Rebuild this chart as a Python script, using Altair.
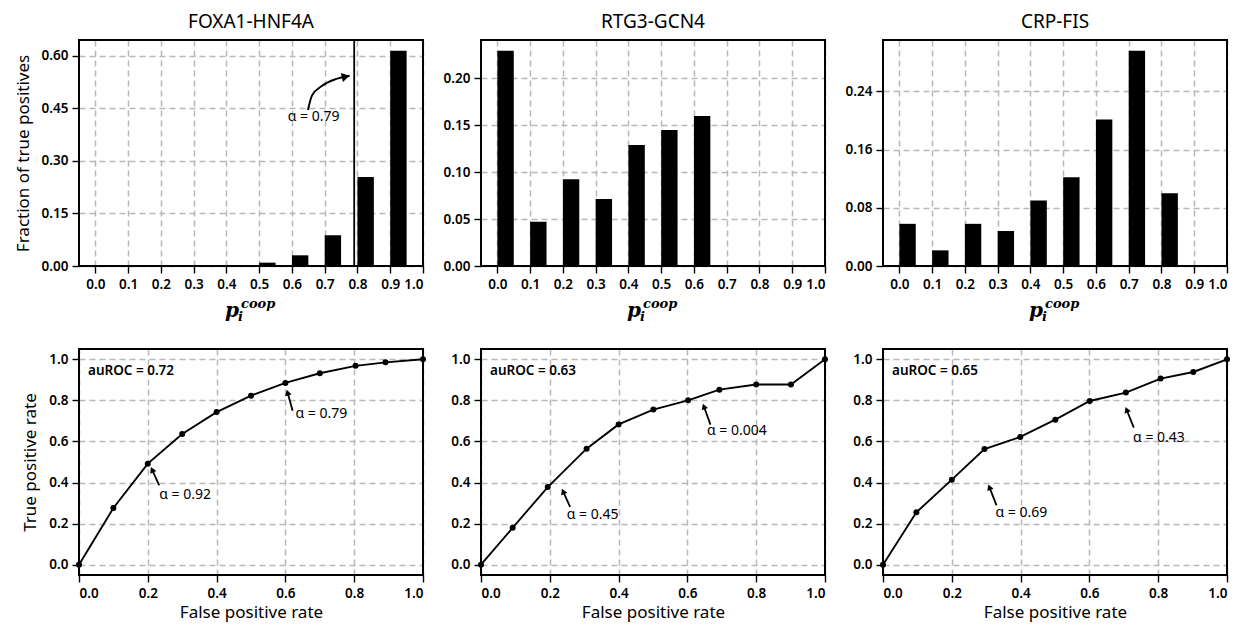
import math
import altair as alt
import pandas as pd

FONT = "Noto Sans"

# ---------------- data ----------------
TITLES = ["FOXA1-HNF4A", "RTG3-GCN4", "CRP-FIS"]
BINS = [0.0, 0.1, 0.2, 0.3, 0.4, 0.5, 0.6, 0.7, 0.8, 0.9]
BIN_WIDTH = 0.05

FOXA_FRAC = [0, 0, 0, 0, 0, 0.0095, 0.0305, 0.0876, 0.254, 0.614]
RTG_FRAC = [0.2295, 0.0473, 0.0925, 0.0715, 0.129, 0.145, 0.160, 0, 0, 0]
CRP_FRAC = [0.058, 0.0215, 0.058, 0.048, 0.090, 0.122, 0.2015, 0.296, 0.100, 0]

FOXA_YTICKS = [0.0, 0.15, 0.30, 0.45, 0.60]
RTG_YTICKS = [0.0, 0.05, 0.10, 0.15, 0.20]
CRP_YTICKS = [0.0, 0.08, 0.16, 0.24]
TOP_XTICKS = [0.0, 0.1, 0.2, 0.3, 0.4, 0.5, 0.6, 0.7, 0.8, 0.9, 1.0]

FOXA_ALPHA = 0.79
FOXA_ALPHA_LABEL = "α = 0.79"
# curved arrow (data coords of top-left panel)
CURVE_X = [0.649, 0.661, 0.692, 0.733, 0.776]
CURVE_Y = [0.445, 0.486, 0.514, 0.533, 0.543]
CURVE_LABEL_X = 0.666
CURVE_LABEL_Y = 0.424

FOXA_FPR = [0, 0.1, 0.2, 0.3, 0.4, 0.5, 0.6, 0.7, 0.804, 0.891, 1.0]
FOXA_TPR = [0, 0.276, 0.492, 0.636, 0.743, 0.823, 0.885, 0.932, 0.968, 0.985, 1.0]
RTG_FPR = [0, 0.092, 0.194, 0.307, 0.4, 0.501, 0.602, 0.693, 0.80, 0.901, 1.0]
RTG_TPR = [0, 0.180, 0.378, 0.565, 0.683, 0.755, 0.800, 0.852, 0.877, 0.877, 1.0]
CRP_FPR = [0, 0.097, 0.2, 0.295, 0.399, 0.501, 0.601, 0.706, 0.807, 0.902, 1.0]
CRP_TPR = [0, 0.255, 0.414, 0.563, 0.622, 0.706, 0.797, 0.838, 0.906, 0.938, 1.0]
AUROC = ["auROC = 0.72", "auROC = 0.63", "auROC = 0.65"]

# annotations: label, text x, text y, arrow tail x, tail y, arrow head x, head y
FOXA_ANN = [("α = 0.79", 0.629, 0.732, 0.621, 0.75, 0.604, 0.852),
            ("α = 0.92", 0.233, 0.341, 0.233, 0.386, 0.209, 0.476)]
RTG_ANN = [("α = 0.004", 0.657, 0.651, 0.667, 0.682, 0.645, 0.784),
           ("α = 0.45", 0.249, 0.240, 0.259, 0.281, 0.235, 0.370)]
CRP_ANN = [("α = 0.43", 0.727, 0.618, 0.729, 0.667, 0.705, 0.768),
           ("α = 0.69", 0.327, 0.250, 0.330, 0.289, 0.306, 0.391)]
ROC_TICKS = [0.0, 0.2, 0.4, 0.6, 0.8, 1.0]

W, H = 344, 226
TOP_XDOM = [-0.05, 1.0]
ROC_XDOM = [0.0, 1.0]
ROC_YDOM = [-0.05, 1.05]
SERIF = "DejaVu Serif"


def arrow_head(tx, ty, hx, hy, xdom, ydom, back=3.0):
    sx = W / (xdom[1] - xdom[0])
    sy = H / (ydom[1] - ydom[0])
    dx = (hx - tx) * sx
    dy = -(hy - ty) * sy
    L = math.hypot(dx, dy)
    ux, uy = dx / L, dy / L
    ang = math.degrees(math.atan2(ux, -uy)) % 360
    cx = hx - ux * back / sx
    cy = hy + uy * back / sy
    return cx, cy, ang


def frame():
    return alt.Chart(pd.DataFrame({"f": [0]})).mark_rect(
        fillOpacity=0, stroke="black", strokeWidth=2).encode(
        x=alt.value(0), x2=alt.value(W), y=alt.value(0), y2=alt.value(H))


def top_panel(i, values, yticks, ytitle):
    ymax = max(values) * 1.05
    xs = alt.Scale(domain=TOP_XDOM, nice=False, zero=False)
    ys = alt.Scale(domain=[0, ymax], nice=False, zero=False)
    xa = alt.Axis(values=TOP_XTICKS, format=".1f", title=None)
    ya = alt.Axis(values=yticks, format=".2f", title=ytitle) if ytitle else alt.Axis(values=yticks, format=".2f", title=None)

    df = pd.DataFrame({"start": BINS, "value": values})
    df["end"] = df["start"] + BIN_WIDTH
    df["zero"] = 0.0
    df = df[df["value"] > 0]
    bars = alt.Chart(df).mark_rect(color="black").encode(
        x=alt.X("start:Q", scale=xs, axis=xa),
        x2="end:Q",
        y=alt.Y("value:Q", scale=ys, axis=ya),
        y2="zero:Q",
    )
    layers = [bars]

    if i == 0:
        rule = alt.Chart(pd.DataFrame({"a": [FOXA_ALPHA]})).mark_rule(
            color="black", strokeWidth=1.8).encode(x=alt.X("a:Q", scale=xs, axis=xa))
        cdf = pd.DataFrame({"x": CURVE_X, "y": CURVE_Y})
        curve = alt.Chart(cdf).mark_line(color="black", strokeWidth=2, interpolate="monotone").encode(
            x=alt.X("x:Q", scale=xs, axis=xa), y=alt.Y("y:Q", scale=ys, axis=ya))
        cx, cy, ang = arrow_head(CURVE_X[-2], CURVE_Y[-2], CURVE_X[-1], CURVE_Y[-1], TOP_XDOM, [0, ymax], back=4)
        head = alt.Chart(pd.DataFrame({"x": [cx], "y": [cy], "ang": [ang]})).mark_point(
            shape="triangle-up", filled=True, color="black", opacity=1, size=85).encode(
            x=alt.X("x:Q", scale=xs, axis=xa), y=alt.Y("y:Q", scale=ys, axis=ya),
            angle=alt.Angle("ang:Q", scale=None))
        lab = alt.Chart(pd.DataFrame({"x": [CURVE_LABEL_X], "y": [CURVE_LABEL_Y], "t": [FOXA_ALPHA_LABEL]})).mark_text(
            font=FONT, fontSize=14, color="black").encode(
            x=alt.X("x:Q", scale=xs, axis=xa), y=alt.Y("y:Q", scale=ys, axis=ya), text="t:N")
        layers += [rule, curve, head, lab]

    # x label p_i^coop
    p = alt.Chart(pd.DataFrame({"t": ["p"]})).mark_text(
        font=SERIF, fontStyle="italic", fontWeight="bold", fontSize=20, color="black",
        align="left", baseline="alphabetic").encode(x=alt.value(146), y=alt.value(277), text="t:N")
    sub = alt.Chart(pd.DataFrame({"t": ["i"]})).mark_text(
        font=SERIF, fontStyle="italic", fontWeight="bold", fontSize=13, color="black",
        align="left", baseline="alphabetic").encode(x=alt.value(159), y=alt.value(281), text="t:N")
    sup = alt.Chart(pd.DataFrame({"t": ["coop"]})).mark_text(
        font=SERIF, fontStyle="italic", fontWeight="bold", fontSize=13, color="black",
        align="left", baseline="alphabetic").encode(x=alt.value(162), y=alt.value(268), text="t:N")
    layers += [p, sub, sup, frame()]

    return alt.layer(*layers).properties(
        width=W, height=H,
        title=alt.TitleParams(TITLES[i], font=FONT, fontSize=19, fontWeight="normal", color="black", offset=7))


def roc_panel(i, fpr, tpr, anns, ytitle):
    xs = alt.Scale(domain=ROC_XDOM, nice=False, zero=False)
    ys = alt.Scale(domain=ROC_YDOM, nice=False, zero=False)
    xa = alt.Axis(values=ROC_TICKS, format=".1f", title="False positive rate")
    ya = alt.Axis(values=ROC_TICKS, format=".1f", title=ytitle) if ytitle else alt.Axis(values=ROC_TICKS, format=".1f", title=None)
    X = lambda f: alt.X(f"{f}:Q", scale=xs, axis=xa)
    Y = lambda f: alt.Y(f"{f}:Q", scale=ys, axis=ya)

    df = pd.DataFrame({"fpr": fpr, "tpr": tpr})
    line = alt.Chart(df).mark_line(color="black", strokeWidth=1.9).encode(x=X("fpr"), y=Y("tpr"))
    pts = alt.Chart(df).mark_circle(color="black", opacity=1, size=36).encode(x=X("fpr"), y=Y("tpr"))

    adf = pd.DataFrame(anns, columns=["t", "lx", "ly", "tx", "ty", "hx", "hy"])
    heads = [arrow_head(r.tx, r.ty, r.hx, r.hy, ROC_XDOM, ROC_YDOM) for r in adf.itertuples()]
    adf["cx"] = [h[0] for h in heads]
    adf["cy"] = [h[1] for h in heads]
    adf["ang"] = [h[2] for h in heads]
    shafts = alt.Chart(adf).mark_rule(color="black", strokeWidth=1.8).encode(
        x=X("tx"), y=Y("ty"), x2="cx:Q", y2="cy:Q")
    hd = alt.Chart(adf).mark_point(shape="triangle-up", filled=True, color="black", opacity=1, size=45).encode(
        x=X("cx"), y=Y("cy"), angle=alt.Angle("ang:Q", scale=None))
    labels = alt.Chart(adf).mark_text(font=FONT, fontSize=14, color="black", align="left", baseline="middle").encode(
        x=X("lx"), y=Y("ly"), text="t:N")
    au = alt.Chart(pd.DataFrame({"t": [AUROC[i]]})).mark_text(
        font=FONT, fontSize=13.5, fontWeight=600, color="black", align="left", baseline="middle").encode(
        x=alt.value(9), y=alt.value(22), text="t:N")

    return alt.layer(line, pts, shafts, hd, labels, au, frame()).properties(width=W, height=H)


panels = [
    top_panel(0, FOXA_FRAC, FOXA_YTICKS, "Fraction of true positives"),
    top_panel(1, RTG_FRAC, RTG_YTICKS, None),
    top_panel(2, CRP_FRAC, CRP_YTICKS, None),
    roc_panel(0, FOXA_FPR, FOXA_TPR, FOXA_ANN, "True positive rate"),
    roc_panel(1, RTG_FPR, RTG_TPR, RTG_ANN, None),
    roc_panel(2, CRP_FPR, CRP_TPR, CRP_ANN, None),
]

chart = alt.concat(*panels, columns=3, spacing={"row": 83, "column": 58}, bounds="flush").properties(
    padding={"left": 6, "top": 5, "right": 2, "bottom": 2},
    background="white",
).configure_view(
    stroke=None
).configure_axis(
    labelFont=FONT, labelFontSize=13.5, labelFontWeight=600, labelColor="black", labelPadding=4,
    tickColor="black", tickSize=7, tickWidth=1.4,
    domain=False,
    grid=True, gridColor="#b8b8b8", gridDash=[6, 4], gridWidth=1.5,
    titleFont=FONT, titleFontSize=17, titleFontWeight="normal", titleColor="black",
).configure_axisX(titlePadding=5).configure_axisY(titlePadding=9)

chart.save("out.html", embed_options={"renderer": "svg", "actions": False})
